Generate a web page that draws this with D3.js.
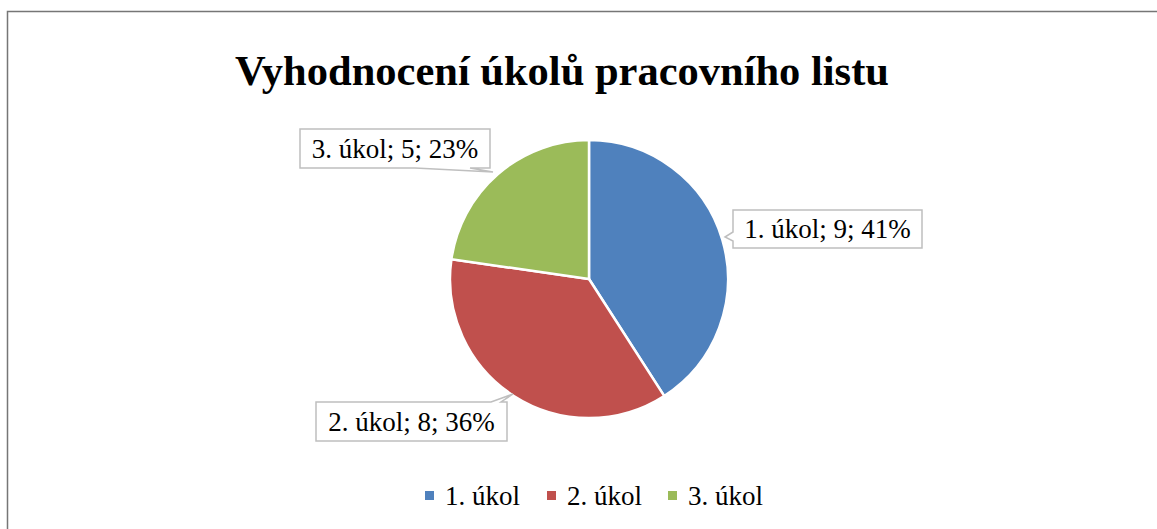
<!DOCTYPE html>
<html>
<head>
<meta charset="utf-8">
<script src="https://cdn.jsdelivr.net/npm/d3@7"></script>
<style>
  body { margin: 0; background: #fff; }
  svg text { font-family: "Liberation Serif", "DejaVu Serif", serif; fill: #000; }
</style>
</head>
<body>
<svg id="chart" width="1157" height="529"></svg>
<script>
var categories = ['1. úkol', '2. úkol', '3. úkol'];
var values = [9, 8, 5];
var colors = ['#4f81bd', '#c0504d', '#9bbb59'];
var titleText = 'Vyhodnocení úkolů pracovního listu';

var svg = d3.select('#chart'),
    width = +svg.attr('width'),
    height = +svg.attr('height');

var cx = 589, cy = 279, radius = 139;

// outer frame (cut off at right / bottom)
svg.append('rect')
    .attr('x', 7.5).attr('y', 11.5)
    .attr('width', width + 10).attr('height', height + 10)
    .attr('fill', 'none')
    .attr('stroke', '#767676')
    .attr('stroke-width', 1.5);

svg.append('text')
    .attr('x', 562).attr('y', 85)
    .attr('text-anchor', 'middle')
    .style('font-size', '42.5px')
    .style('font-weight', 'bold')
    .text(titleText);

var total = d3.sum(values);
var pie = d3.pie().sort(null).value(function(d) { return d; });
var arc = d3.arc().innerRadius(0).outerRadius(radius);
var arcs = pie(values);

var g = svg.append('g').attr('transform', 'translate(' + cx + ',' + cy + ')');
g.selectAll('path.slice')
    .data(arcs)
    .enter().append('path')
    .attr('class', 'slice')
    .attr('d', arc)
    .attr('fill', function(d, i) { return colors[i]; })
    .attr('stroke', '#fff')
    .attr('stroke-width', 2.5);

// data labels with callouts
var boxes = [
    { x: 733, y: 210, w: 189, h: 38 },
    { x: 316, y: 402, w: 191, h: 39 },
    { x: 300, y: 129, w: 190, h: 39 }
];

var lbl = svg.append('g').attr('class', 'labels');
arcs.forEach(function(d, i) {
    var b = boxes[i], pts, tip;
    if (i === 0) {
        tip = [725, 237];
        pts = [[b.x, b.y], [b.x + b.w, b.y], [b.x + b.w, b.y + b.h], [b.x, b.y + b.h],
               [b.x, 241], tip, [b.x, 232]];
    } else if (i === 1) {
        tip = [513, 394];
        pts = [[b.x, b.y], [b.x + 175, b.y], tip, [b.x + 185, b.y], [b.x + b.w, b.y],
               [b.x + b.w, b.y + b.h], [b.x, b.y + b.h]];
    } else {
        tip = [493, 172];
        pts = [[b.x, b.y], [b.x + b.w, b.y], [b.x + b.w, b.y + b.h], [b.x + 170, b.y + b.h],
               tip, [b.x + 115, b.y + b.h], [b.x, b.y + b.h]];
    }
    lbl.append('path')
        .attr('d', d3.line()(pts) + 'Z')
        .attr('fill', '#fff')
        .attr('stroke', '#bfbfbf')
        .attr('stroke-width', 1.5);
    var pct = Math.round(values[i] / total * 100);
    lbl.append('text')
        .attr('x', b.x + b.w / 2).attr('y', b.y + b.h / 2 + 9)
        .attr('text-anchor', 'middle')
        .style('font-size', '27px')
        .text(categories[i] + '; ' + values[i] + '; ' + pct + '%');
});

// legend
var legendX = [425, 547, 668];
var legend = svg.append('g').attr('class', 'legend');
categories.forEach(function(c, i) {
    legend.append('rect')
        .attr('x', legendX[i]).attr('y', 491)
        .attr('width', 9).attr('height', 9)
        .attr('fill', colors[i]);
    legend.append('text')
        .attr('x', legendX[i] + 20).attr('y', 505)
        .style('font-size', '27px')
        .text(c);
});
</script>
</body>
</html>
